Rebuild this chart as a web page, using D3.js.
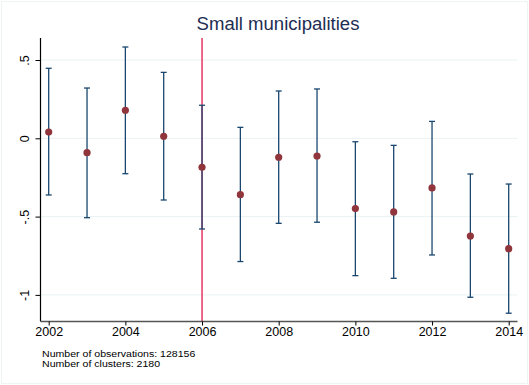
<!DOCTYPE html>
<html>
<head>
<meta charset="utf-8">
<script src="https://cdn.jsdelivr.net/npm/d3@7"></script>
<style>
  html, body { margin: 0; padding: 0; background: #fff; }
  svg { display: block; font-family: "Liberation Sans", Arial, sans-serif; }
</style>
</head>
<body>
<svg id="chart" width="529" height="385"></svg>
<script>
// Event-study coefficients with 95% confidence intervals
const years = [2002, 2003, 2004, 2005, 2006, 2007, 2008, 2009, 2010, 2011, 2012, 2013, 2014];
const coef  = [0.040, -0.092, 0.179, 0.013, -0.185, -0.360, -0.121, -0.113, -0.449, -0.470, -0.317, -0.624, -0.705];
const upper = [0.447, 0.321, 0.583, 0.421, 0.211, 0.070, 0.302, 0.315, -0.022, -0.045, 0.108, -0.228, -0.292];
const lower = [-0.362, -0.507, -0.226, -0.394, -0.579, -0.787, -0.543, -0.536, -0.877, -0.894, -0.745, -1.015, -1.117];
const xTicks = [2002, 2004, 2006, 2008, 2010, 2012, 2014];
const yTicks = [0.5, 0, -0.5, -1];
const yTickLabels = [".5", "0", "-.5", "-1"];
const eventYear = 2006;
const titleText = "Small municipalities";
const notes = ["Number of observations: 128156", "Number of clusters: 2180"];

const svg = d3.select("#chart");
const W = 529, H = 385;
const plot = { left: 40.5, right: 517.5, top: 38, bottom: 321.5 };

// faint outer frame of the graph region
svg.append("rect").attr("x", 1.5).attr("y", 1.5).attr("width", W - 3).attr("height", H - 3)
  .attr("fill", "#fff").attr("stroke", "#eef3f3").attr("stroke-width", 1);

const x = d3.scaleLinear().domain([2002, 2014]).range([48.7, 508.7]);
const y = d3.scaleLinear().domain([0, 0.5]).range([138.3, 60.0]);

// horizontal gridlines
svg.append("g").selectAll("line").data(yTicks).join("line")
  .attr("x1", plot.left).attr("x2", plot.right)
  .attr("y1", d => y(d)).attr("y2", d => y(d))
  .attr("stroke", "#eaf2f3").attr("stroke-width", 1);

// event-year marker line
svg.append("line")
  .attr("x1", x(eventYear)).attr("x2", x(eventYear))
  .attr("y1", plot.top).attr("y2", plot.bottom)
  .attr("stroke", "#e3174a").attr("stroke-width", 1.3);

// confidence intervals
const ci = svg.append("g").attr("stroke", "#1a476f").attr("stroke-width", 1.3).attr("fill", "none");
years.forEach((yr, i) => {
  const cx = x(yr);
  ci.append("line").attr("x1", cx).attr("x2", cx).attr("y1", y(upper[i])).attr("y2", y(lower[i]));
  ci.append("line").attr("x1", cx - 3).attr("x2", cx + 3).attr("y1", y(upper[i])).attr("y2", y(upper[i]));
  ci.append("line").attr("x1", cx - 3).attr("x2", cx + 3).attr("y1", y(lower[i])).attr("y2", y(lower[i]));
});

// point estimates
svg.append("g").selectAll("circle").data(years).join("circle")
  .attr("cx", d => x(d)).attr("cy", (d, i) => y(coef[i]))
  .attr("r", 3.6).attr("fill", "#90353b");

// y axis
const yAxis = d3.axisLeft(y).tickValues(yTicks)
  .tickFormat((d, i) => yTickLabels[i]).tickSize(5).tickPadding(0);
const gy = svg.append("g").attr("transform", `translate(${plot.left},0)`).call(yAxis);
gy.select(".domain").attr("d", `M0,${plot.top}V${plot.bottom}`).attr("stroke", "#000").attr("stroke-width", 1.2);
gy.selectAll(".tick line").attr("stroke", "#000");
gy.selectAll(".tick text")
  .attr("x", 0).attr("dy", null)
  .attr("transform", "translate(-12,0) rotate(-90)")
  .attr("text-anchor", "middle")
  .attr("font-size", 12.5).attr("fill", "#000");

// x axis
const xAxis = d3.axisBottom(x).tickValues(xTicks).tickFormat(d3.format("d")).tickSize(4).tickPadding(2);
const gx = svg.append("g").attr("transform", `translate(0,${plot.bottom})`).call(xAxis);
gx.select(".domain").attr("d", `M${plot.left},0H${plot.right}`).attr("stroke", "#555").attr("stroke-width", 1.3);
gx.selectAll(".tick line").attr("stroke", "#000");
gx.selectAll(".tick text").attr("font-size", 12.5).attr("fill", "#000");

// title, sized to span its slot above the plot
const title = svg.append("text").attr("x", 278).attr("y", 30)
  .attr("text-anchor", "middle").attr("font-size", 19).attr("fill", "#1e2d53")
  .text(titleText);
const tw = title.node().getComputedTextLength();
if (tw > 0) title.attr("font-size", 19 * 163 / tw);

// notes below the axis, set in a horizontally widened face
const noteText = svg.append("g").selectAll("text").data(notes).join("text")
  .attr("x", 0).attr("y", 0)
  .attr("font-size", 9.4).attr("fill", "#000")
  .text(d => d);
const nw = noteText.node().getComputedTextLength();
const sx = nw > 0 ? 153 / nw : 1;
noteText.attr("transform", (d, i) => `translate(42,${356.5 + i * 10.2}) scale(${sx},1)`);
</script>
</body>
</html>
